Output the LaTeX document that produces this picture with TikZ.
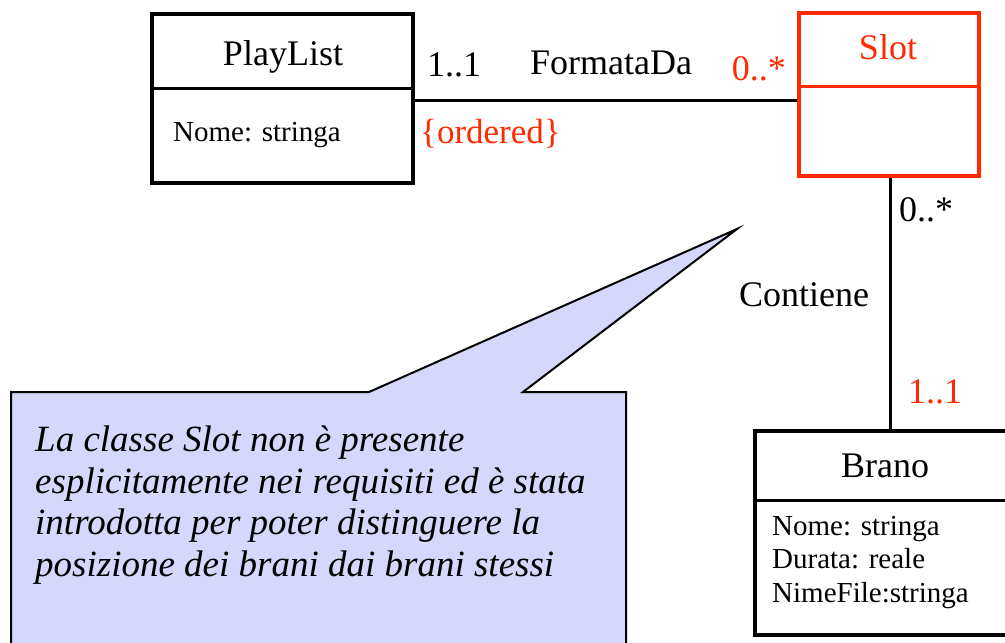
\documentclass[tikz,border=0pt]{standalone}
\usepackage{fontspec}
\setmainfont{Liberation Serif}
\definecolor{umlred}{RGB}{255,42,0}
\definecolor{notefill}{RGB}{213,215,252}
\begin{document}
\begin{tikzpicture}[x=1pt,y=-1pt,
  classbox/.style={draw,line width=3.6pt,inner sep=0pt,minimum width=#1},
  divider/.style={line width=3pt},
  assoc/.style={line width=3pt},
  titletext/.style={font=\fontsize{36}{40}\selectfont,anchor=base,inner sep=0pt},
  attrtext/.style={font=\fontsize{29}{34}\selectfont,anchor=base west,inner sep=0pt},
  labtext/.style={font=\fontsize{36}{40}\selectfont,anchor=base west,inner sep=0pt},
  redtext/.style={labtext,text=umlred},
  notetext/.style={font=\fontsize{37}{42}\selectfont\itshape,anchor=base west,inner sep=0pt},
  note/.style={draw=black,line width=2pt,fill=notefill,line join=miter}]
\useasboundingbox (0,0) rectangle (1005,643);
\clip (0,0) rectangle (1005,643);

% note callout
\draw[note] (11,392) -- (369,392) -- (737,229) -- (523,392) -- (626,392) -- (626,660) -- (11,660) -- cycle;
\node[notetext] (noteline1) at (35,451) {La classe Slot non è presente};
\node[notetext] (noteline2) at (35,493) {esplicitamente nei requisiti ed è stata};
\node[notetext] (noteline3) at (35,534.5) {introdotta per poter distinguere la};
\node[notetext] (noteline4) at (35,576) {posizione dei brani dai brani stessi};

% PlayList
\node[classbox=261pt,minimum height=169pt] (playlist) at (282.5,98.5) {};
\draw[divider] (playlist.west |- 0,88) -- (playlist.east |- 0,88);
\node[titletext] (playlistname) at (283,65) {PlayList};
\node[attrtext] (playlistattr) at (173,141) {Nome: stringa};

% Slot
\node[classbox=180pt,minimum height=163pt,draw=umlred] (slot) at (889,94.5) {};
\draw[divider,umlred] (slot.west |- 0,86) -- (slot.east |- 0,86);
\node[titletext,text=umlred] (slotname) at (888,59) {Slot};

% Brano
\node[classbox=262pt,minimum height=204pt,anchor=north west] (brano) at (753,429) {};
\draw[divider] (brano.west |- 0,500) -- (brano.east |- 0,500);
\node[titletext] (braname) at (885,477) {Brano};
\node[attrtext] (branoattr1) at (772,535) {Nome: stringa};
\node[attrtext] (branoattr2) at (772,568.5) {Durata: reale};
\node[attrtext] (branoattr3) at (772,602) {NimeFile:stringa};

% FormataDa association
\draw[assoc] (playlist.east |- 0,100) -- (slot.west |- 0,100);
\node[labtext] (m11) at (427,76) {1..1};
\node[labtext] (formata) at (530,74) {FormataDa};
\node[redtext,anchor=base east] (m0s) at (786,80) {0..*};
\node[redtext,font=\fontsize{35}{40}\selectfont] (ordered) at (420,143) {\{ordered\}};

% Contiene association
\draw[assoc] (slot.south -| 890,0) -- (brano.north -| 890,0);
\node[labtext] (m0s2) at (899,221) {0..*};
\node[labtext] (contiene) at (739,306) {Contiene};
\node[redtext] (m11b) at (908,403) {1..1};
\end{tikzpicture}
\end{document}
